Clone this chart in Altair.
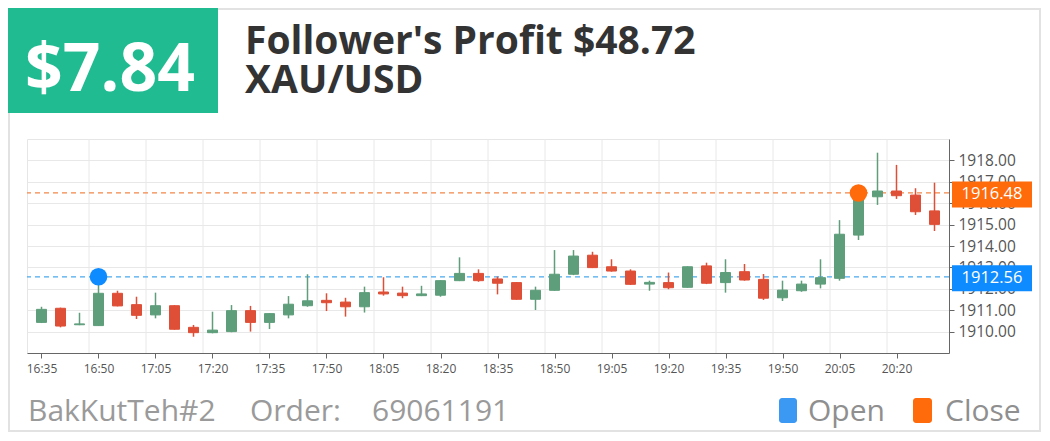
import altair as alt
import pandas as pd

# ---------------- data ----------------
times = ["16:35", "16:40", "16:45", "16:50", "16:55", "17:00", "17:05", "17:10",
         "17:15", "17:20", "17:25", "17:30", "17:35", "17:40", "17:45", "17:50",
         "17:55", "18:00", "18:05", "18:10", "18:15", "18:20", "18:25", "18:30",
         "18:35", "18:40", "18:45", "18:50", "18:55", "19:00", "19:05", "19:10",
         "19:15", "19:20", "19:25", "19:30", "19:35", "19:40", "19:45", "19:50",
         "19:55", "20:00", "20:05", "20:10", "20:15", "20:20", "20:25", "20:30"]
opens = [1910.43, 1911.09, 1910.32, 1910.28, 1911.79, 1911.26, 1910.78, 1911.21,
         1910.20, 1909.95, 1910.00, 1910.98, 1910.43, 1910.78, 1911.21, 1911.46,
         1911.38, 1911.16, 1911.85, 1911.80, 1911.68, 1911.70, 1912.38, 1912.72,
         1912.46, 1912.29, 1911.51, 1911.93, 1912.68, 1913.57, 1913.03, 1912.83,
         1912.22, 1912.29, 1912.07, 1913.07, 1912.29, 1912.80, 1912.44, 1911.58,
         1911.91, 1912.22, 1912.49, 1914.51, 1916.30, 1916.57, 1916.38, 1915.64]
highs = [1911.16, 1911.12, 1910.88, 1912.56, 1911.91, 1911.63, 1911.82, 1911.23,
         1910.31, 1910.93, 1911.24, 1911.20, 1910.86, 1911.66, 1912.68, 1911.79,
         1911.58, 1912.10, 1912.54, 1912.10, 1912.14, 1912.40, 1913.47, 1912.91,
         1912.57, 1912.31, 1912.10, 1913.81, 1913.81, 1913.73, 1913.38, 1912.91,
         1912.38, 1912.76, 1913.05, 1913.22, 1913.38, 1913.16, 1912.69, 1912.38,
         1912.38, 1913.38, 1915.21, 1916.48, 1918.36, 1917.79, 1916.70, 1916.96]
lows = [1910.40, 1910.20, 1910.30, 1910.28, 1911.18, 1910.59, 1910.62, 1910.09,
        1909.76, 1909.92, 1909.97, 1910.00, 1910.12, 1910.62, 1911.16, 1910.96,
        1910.70, 1910.89, 1911.68, 1911.56, 1911.66, 1911.63, 1912.36, 1912.33,
        1911.74, 1911.49, 1911.01, 1911.91, 1912.64, 1912.97, 1912.80, 1912.18,
        1911.91, 1911.98, 1912.05, 1912.22, 1911.82, 1912.38, 1911.48, 1911.43,
        1911.86, 1912.02, 1912.38, 1914.28, 1915.92, 1916.20, 1915.45, 1914.70]
closes = [1911.04, 1910.26, 1910.36, 1911.79, 1911.20, 1910.76, 1911.21, 1910.11,
          1909.95, 1910.07, 1910.98, 1910.43, 1910.84, 1911.28, 1911.44, 1911.35,
          1911.16, 1911.82, 1911.76, 1911.68, 1911.76, 1912.38, 1912.72, 1912.38,
          1912.26, 1911.51, 1911.93, 1912.68, 1913.53, 1912.99, 1912.83, 1912.21,
          1912.30, 1912.05, 1913.03, 1912.26, 1912.76, 1912.41, 1911.56, 1911.94,
          1912.22, 1912.52, 1914.55, 1916.35, 1916.57, 1916.35, 1915.60, 1915.01]

tick_labels = ["16:35", "16:50", "17:05", "17:20", "17:35", "17:50", "18:05", "18:20",
               "18:35", "18:50", "19:05", "19:20", "19:35", "19:50", "20:05", "20:20"]
y_ticks = [1910, 1911, 1912, 1913, 1914, 1915, 1916, 1917, 1918]

marker_times = ["16:50", "20:10"]
marker_prices = [1912.56, 1916.48]
marker_kinds = ["Open", "Close"]

profit_text = "$7.84"
title_line1 = "Follower's Profit $48.72"
title_line2 = "XAU/USD"
trader = "BakKutTeh#2"
order_label = "Order:"
order_no = "69061191"

GREEN = "#5e9e7b"
RED = "#df4f37"
BLUE = "#0d8bff"
ORANGE = "#ff6a0a"
BLUE_LINE = "#4aa9ee"
ORANGE_LINE = "#f2874a"


def to_min(s):
    h, m = s.split(":")
    return int(h) * 60 + int(m)


df = pd.DataFrame({
    "m": [to_min(t) for t in times],
    "open": opens, "high": highs, "low": lows, "close": closes,
})
tick_mins = [to_min(t) for t in tick_labels]
grid_df = pd.DataFrame({"m": [v + 12.5 for v in tick_mins[:-1]]})
mk = pd.DataFrame({
    "m": [to_min(t) for t in marker_times],
    "price": marker_prices,
    "kind": marker_kinds,
    "label": [f"{p:.2f}" for p in marker_prices],
})
one = pd.DataFrame({"k": [0]})

SANS = "Open Sans, sans-serif"

xs = alt.Scale(domain=[992.5, 1232.5], nice=False, zero=False)
ys = alt.Scale(domain=[1909, 1919], nice=False, zero=False)

x_axis = alt.Axis(values=tick_mins, title=None, grid=False,
                  labelExpr="floor(datum.value/60) + ':' + (datum.value % 60 < 10 ? '0' : '') + (datum.value % 60)",
                  tickSize=5, labelPadding=5, labelFont=SANS, labelFontSize=12,
                  labelColor="#555555", domainColor="#666666", tickColor="#666666")
y_axis = alt.Axis(values=y_ticks, orient="right", format=".2f", title=None,
                  grid=True, gridColor="#e8e8e8", tickSize=5, labelPadding=4,
                  labelFont=SANS, labelFontSize=15.5, labelColor="#555555",
                  domainColor="#666666", tickColor="#666666")


def X(f):
    return alt.X(f, scale=xs, axis=x_axis)


def Y(f):
    return alt.Y(f, scale=ys, axis=y_axis)


color_cond = alt.condition("datum.close >= datum.open", alt.value(GREEN), alt.value(RED))
kind_dom = ["Open", "Close"]

vgrid = alt.Chart(grid_df).mark_rule(color="#e8e8e8", strokeWidth=1).encode(x=X("m:Q"))

dash_lines = alt.Chart(mk).mark_rule(strokeDash=[5, 4], strokeWidth=1.3).encode(
    y=Y("price:Q"),
    color=alt.Color("kind:N", scale=alt.Scale(domain=kind_dom, range=[BLUE_LINE, ORANGE_LINE]), legend=None),
)

wicks = alt.Chart(df).mark_rule(strokeWidth=1.5).encode(
    x=X("m:Q"), y=Y("low:Q"), y2="high:Q", color=color_cond)

bodies = alt.Chart(df).mark_bar(size=10, strokeWidth=1).encode(
    x=X("m:Q"), y=Y("open:Q"), y2="close:Q", color=color_cond, stroke=color_cond)

dots = alt.Chart(mk).mark_circle(size=310, opacity=1).encode(
    x=X("m:Q"), y=Y("price:Q"),
    color=alt.Color("kind:N", scale=alt.Scale(domain=kind_dom, range=[BLUE, ORANGE]), legend=None),
)

box_shape = "M-1,-0.325L1,-0.325L1,0.325L-1,0.325Z"
boxes = alt.Chart(mk).mark_point(shape=box_shape, size=6400, filled=True, opacity=1, strokeWidth=0, yOffset=1.5).encode(
    x=alt.value(965), y=Y("price:Q"),
    color=alt.Color("kind:N", scale=alt.Scale(domain=kind_dom, range=[BLUE, ORANGE]), legend=None),
)
box_text = alt.Chart(mk).mark_text(font=SANS, fontSize=16.5, color="white", align="center",
                                   baseline="middle", yOffset=1.5).encode(
    x=alt.value(965), y=Y("price:Q"), text="label:N")

# header
head_rect = alt.Chart(one).mark_rect(color="#21bb92").encode(
    x=alt.value(-19), x2=alt.value(191), y=alt.value(-131), y2=alt.value(-26))
head_profit = alt.Chart(one).mark_text(text=profit_text, font=SANS, fontSize=66, fontWeight="bold",
                                       color="white", align="center", baseline="alphabetic").encode(
    x=alt.value(83), y=alt.value(-48))
head_t1 = alt.Chart(one).mark_text(text=title_line1, font=SANS, fontSize=39, fontWeight="bold",
                                   color="#333333", align="left", baseline="alphabetic").encode(
    x=alt.value(218), y=alt.value(-85))
head_t2 = alt.Chart(one).mark_text(text=title_line2, font=SANS, fontSize=39, fontWeight="bold",
                                   color="#333333", align="left", baseline="alphabetic").encode(
    x=alt.value(218), y=alt.value(-46))


# footer
def foot_text(t, x, color="#9a9a9a"):
    return alt.Chart(one).mark_text(text=t, font=SANS, fontSize=30, color=color,
                                    align="left", baseline="alphabetic").encode(
        x=alt.value(x), y=alt.value(282))


f1 = foot_text(trader, 1)
f2 = foot_text(order_label, 223)
f3 = foot_text(order_no, 345)
f4 = foot_text("Open", 781, "#8f8f8f")
f5 = foot_text("Close", 918, "#8f8f8f")
leg_open = alt.Chart(one).mark_rect(color="#3b99f3", cornerRadius=3).encode(
    x=alt.value(752), x2=alt.value(770), y=alt.value(259), y2=alt.value(284))
leg_close = alt.Chart(one).mark_rect(color="#ff6a0a", cornerRadius=3).encode(
    x=alt.value(886), x2=alt.value(905), y=alt.value(259), y2=alt.value(284))

frame = alt.Chart(one).mark_rect(fill=None, stroke="#e2e2e2", strokeWidth=2).encode(
    x=alt.value(-18), x2=alt.value(1013), y=alt.value(-130), y2=alt.value(292))

chart = alt.layer(
    frame, vgrid, dash_lines, wicks, bodies, dots, boxes, box_text,
    head_rect, head_profit, head_t1, head_t2,
    f1, f2, f3, f4, f5, leg_open, leg_close,
).resolve_scale(color="independent").properties(
    width=922, height=214,
    padding={"left": 19, "top": 131, "right": 93, "bottom": 80},
    autosize=alt.AutoSizeParams(type="none"),
    background="white",
).configure_view(stroke="#e6e6e6")

chart.save("out.html", embed_options={"renderer": "svg", "actions": False})
